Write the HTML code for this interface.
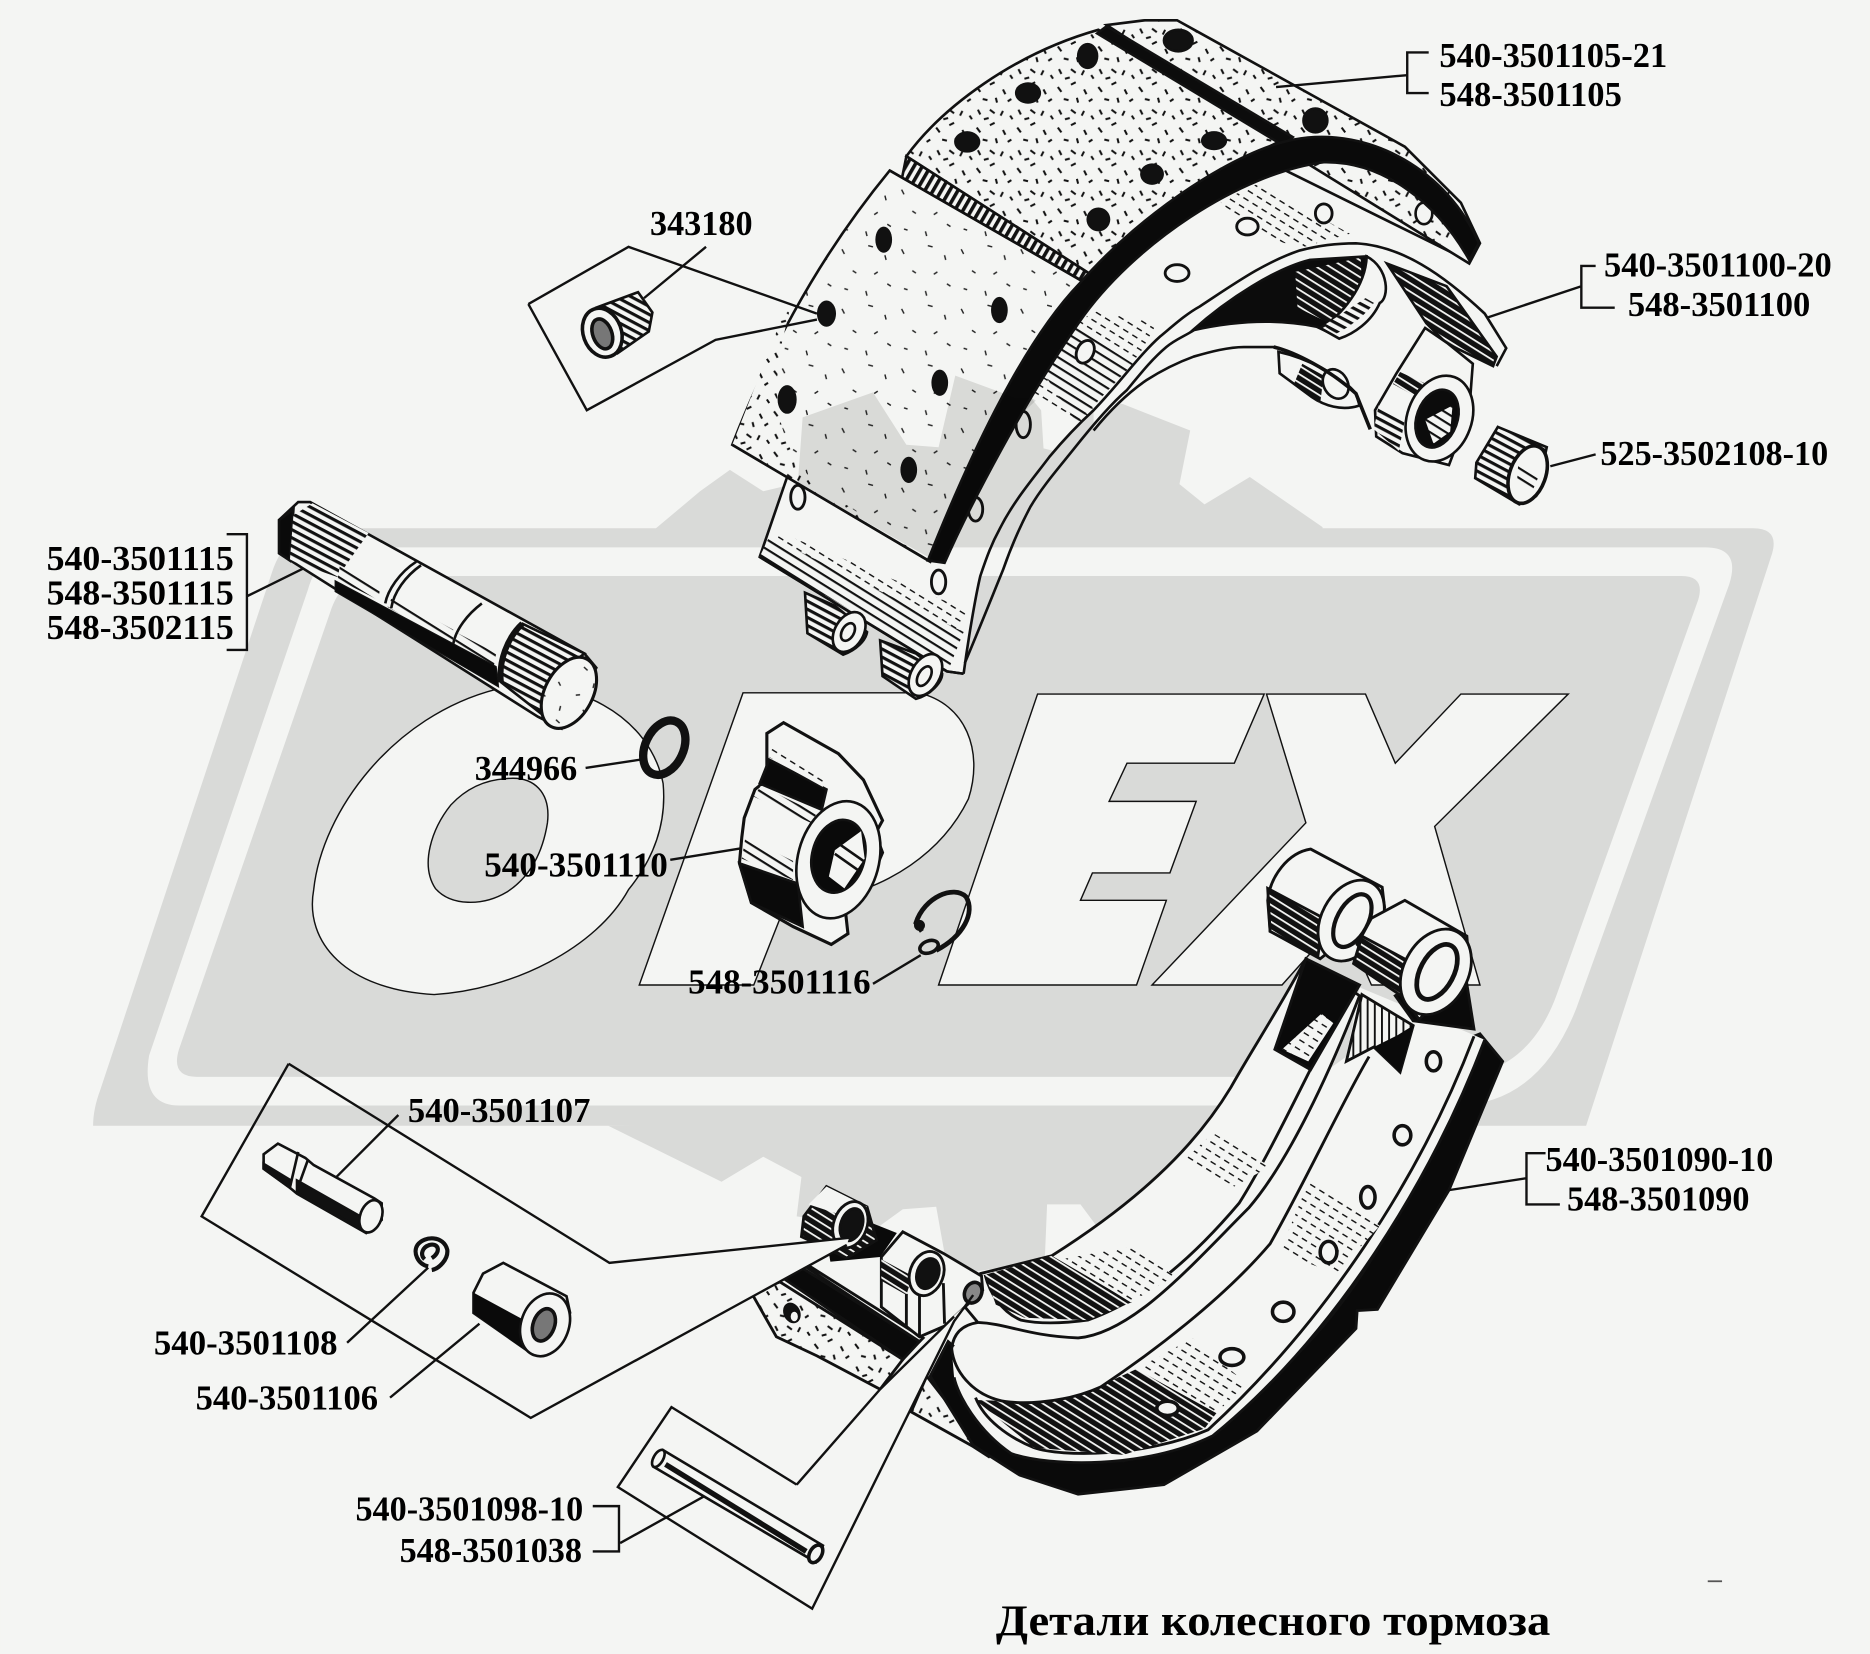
<!DOCTYPE html>
<html><head><meta charset="utf-8"><style>
html,body{margin:0;padding:0;background:#f4f5f3}
svg{display:block}
text{font-family:"Liberation Serif",serif;font-weight:bold;fill:#000;font-size:29px}
</style></head><body>
<svg width="1870" height="1654" viewBox="0 0 1568 1387" xmlns="http://www.w3.org/2000/svg">
<defs>
<pattern id="sp" width="34" height="34" patternUnits="userSpaceOnUse">
<rect width="34" height="34" fill="#f4f5f3"/>
<g stroke="#111" stroke-width="1.7" fill="none">
<path d="M3 5l3 4M14 3l4-2M25 7l2 4M8 15l4 1M19 14l1 4M29 17l3-2M4 24l2 4M14 24l4 3M25 25l-2 4M9 32l4-1M31 29l2 3"/>
</g></pattern>
<pattern id="sl" width="50" height="50" patternUnits="userSpaceOnUse">
<rect width="50" height="50" fill="#f4f5f3"/>
<g stroke="#222" stroke-width="1.2" fill="none">
<path d="M6 9l2 4M28 6l4 1M42 14l1 4M15 27l3 2M33 30l3-2M8 42l3 1M26 44l1 4M44 38l3 2"/>
</g></pattern>
<pattern id="h" width="7" height="7" patternUnits="userSpaceOnUse" patternTransform="rotate(32)">
<rect width="7" height="7" fill="#f4f5f3"/><rect y="0" width="7" height="1.8" fill="#111"/></pattern>
<pattern id="hd" width="6" height="6" patternUnits="userSpaceOnUse" patternTransform="rotate(32)">
<rect width="6" height="6" fill="#111"/><rect y="0" width="6" height="1.5" fill="#f4f5f3"/></pattern>
<pattern id="hl" width="9" height="7" patternUnits="userSpaceOnUse" patternTransform="rotate(32)">
<rect width="9" height="7" fill="#f4f5f3"/><path d="M0 1H5" stroke="#111" stroke-width="1.2"/></pattern>
<pattern id="v" width="6" height="6" patternUnits="userSpaceOnUse" patternTransform="rotate(30)">
<rect width="6" height="6" fill="#f4f5f3"/><rect width="3" height="6" fill="#111"/></pattern>
<pattern id="vl" width="6" height="6" patternUnits="userSpaceOnUse">
<rect width="6" height="6" fill="#f4f5f3"/><rect width="1.6" height="6" fill="#111"/></pattern>
<pattern id="s" width="6" height="6" patternUnits="userSpaceOnUse" patternTransform="rotate(28)">
<rect width="6" height="6" fill="#f4f5f3"/><rect width="6" height="2.6" fill="#111"/></pattern>
</defs>
<rect width="1568" height="1387" fill="#f4f5f3"/>

<!-- LOGO -->
<g fill="#d9dad8">
<path d="M550,443 L587,412 L612,394 L640,412 L690,400 L732,329 L801,315 L870,325 L942,339 L998,361 L989,406 L1010,423 L1048,400 L1109,442 L1109,460 L550,460Z"/>
<path d="M510,944 L605,991 L640,970 L672,987 L668,1020 L735,1030 L757,1014 L785,1012 L792,1051 L819,1066 L876,1058 L878,1010 L906,1010 L938,1053 L1005,1024 L998,987 L1099,950 L1129,940Z"/>
<path d="M78,944 Q78,930 84,914 L228,480 Q240,443 275,443 L1470,443 Q1492,443 1486,464 L1330,944Z"/>
</g>
<path d="M125,885 L258,495 Q268,459 300,459 L1430,459 Q1460,459 1450,490 L1322,845 Q1290,927 1220,927 L150,927 Q118,927 125,885Z" fill="#f4f5f3"/>
<path d="M150,880 L278,510 Q288,483 312,483 L1410,483 Q1430,483 1424,503 L1305,835 Q1280,903 1215,903 L165,903 Q143,903 150,880Z" fill="#d9dad8"/>
<g fill="#f4f5f3" stroke="#111" stroke-width="1.2">
<path d="M416,578 C480,565 545,600 556,657 C560,700 540,730 527,746 C500,795 430,830 364,834 C290,830 255,790 263,746 C270,680 330,600 416,578Z"/>
<path d="M536,826 L623,581 L770,581 C810,590 825,630 812,670 C790,715 745,745 690,755 L660,755 L632,826Z"/>
<path d="M787,826 L870,582 L1060,582 L1035,640 L945,640 L930,672 L1003,672 L981,732 L916,732 L906,755 L978,755 L953,826Z"/>
<path d="M966,826 L1095,690 L1062,582 L1145,582 L1170,640 L1225,582 L1315,582 L1203,693 L1241,826 L1150,826 L1125,770 L1075,826Z"/>
</g>
<path d="M424,653 C448,650 462,665 459,690 C455,715 445,735 425,748 C405,760 378,760 365,745 C352,725 362,695 378,675 C392,660 408,654 424,653Z" fill="#d9dad8" stroke="#111" stroke-width="1.2"/>

<!-- UPPER SHOE -->
<g stroke="#111" stroke-width="2.2">
<!-- rim fills (no stroke) -->
<path stroke="none" fill="#f4f5f3" d="M1076,142 L1232,219 L1245,263 C1210,230 1175,206 1137,204 C1120,204 1105,206 1090,210 C1060,220 1035,238 1006,257 C995,263 985,272 973,282 C955,298 940,320 917,344 C905,355 895,365 880,383 C865,403 850,420 838,444 C832,455 828,465 822,483 C818,500 812,535 808,565 L794,563 L637,467 L660,400 L800,400Z"/>
<path stroke="none" fill="#f4f5f3" d="M1245,263 C1210,230 1175,206 1137,204 C1120,204 1105,206 1090,210 C1060,220 1035,238 1006,257 C985,272 955,298 917,344 L917,361 C930,345 945,330 961,319 C975,310 990,303 1001,299 C1015,295 1030,291 1043,291 L1070,291 L1150,320 L1234,318 L1263,292Z"/>
<path d="M1076,142 L1232,219M660,400 L637,467 L794,563 L808,565" fill="none"/>
<!-- rim hatching -->
<path d="M653,446 L812,512 L796,559 L637.5,468Z" fill="url(#hl)" stroke="none"/>
<path d="M645,450 L808,530 L796,560 L637,467Z" fill="url(#h)" stroke="none"/>
<path d="M864,333 L892,280 L917,261 L970,271 L956,296 L903,358Z" fill="url(#hl)" stroke="none"/>
<path d="M900,273 L950,305 L903,355 L875,313Z" fill="url(#h)" stroke="none"/>
<path d="M1023,169 L1055,154 L1132,196 L1090,208 L1050,195Z" fill="url(#hl)" stroke="none"/>
<path d="M637,467 L794,563 L808,565" fill="none"/>
<!-- arch lines -->
<path d="M808,565 C812,535 818,500 822,483 C828,465 832,455 838,444 C850,420 865,403 880,383 C895,365 905,355 917,344 C940,320 955,298 973,282 C985,272 995,263 1006,257 C1035,238 1060,220 1090,210 C1105,206 1120,204 1137,204 C1175,206 1210,230 1245,263 L1263,292 L1255,307" fill="none"/>
<path d="M809,556 C820,530 832,500 841,478 C848,458 856,440 864,425 C874,408 888,392 900,377 C915,358 930,340 945,327 C955,315 965,302 978,291 C985,285 993,282 1001,277" fill="none"/>
<path d="M917,361 C930,345 945,330 961,319 C975,310 990,303 1001,299 C1015,295 1030,291 1043,291 L1070,291" fill="none"/>
<!-- rear bush -->
<path d="M1072,295 C1095,300 1125,315 1137,330 L1140,340 C1125,345 1110,340 1100,333 L1073,313Z" fill="#f4f5f3"/>
<path d="M1092,305 L1110,315 L1107,338 L1085,322Z" fill="url(#hd)" stroke="none"/>
<ellipse cx="1120" cy="322" rx="10" ry="13" fill="#f4f5f3" transform="rotate(-30 1120 322)"/>
<!-- web interior -->
<path d="M1000,277 C1030,250 1070,225 1098,218 L1146,215 C1150,240 1140,262 1123,283 L1104,274 C1075,268 1040,268 1000,277Z" fill="#0c0c0c"/>
<path d="M1086,228 L1141,216 L1142,244 L1123,275 L1088,258Z" fill="url(#hd)" stroke="none"/>
<path d="M1146,215 C1165,225 1165,250 1157,254 C1150,270 1135,280 1123,284 L1107,275 C1125,265 1145,240 1146,215Z" fill="#f4f5f3"/>
<path d="M1120,280 C1130,275 1145,265 1152,254 L1145,250 L1110,273Z" fill="url(#s)" stroke="none"/>
<!-- lower curve -->
<path d="M1068,291 C1085,295 1115,310 1137,330 L1149,360" fill="none" stroke-width="3"/>
<!-- hatched arm -->
<path d="M1163,221 L1213,240 L1255,299 L1252,307 L1213,288 L1196,271Z" fill="url(#hd)"/>
<!-- lever and eye -->
<path d="M1195,275 L1171,313 L1153,344 L1154,366 L1176,380 L1215,390 L1232,345 L1234,318 L1235,305 L1214,288Z" fill="#f4f5f3"/>
<path d="M1174,312 L1196,322 L1188,333 L1168,322Z" fill="url(#hd)" stroke="none"/>
<path d="M1156,340 L1178,352 L1173,378 L1152,360Z" fill="url(#s)" stroke="none"/>
<ellipse cx="1207" cy="351" rx="27" ry="37" transform="rotate(20 1207 351)" fill="#f4f5f3"/>
<ellipse cx="1205" cy="351" rx="17" ry="25" transform="rotate(20 1205 351)" fill="#0c0c0c"/>
<path d="M1195,352 L1218,340 L1216,362 L1202,372Z" fill="url(#h)" stroke="none"/>
<!-- rim holes -->
<g fill="#f4f5f3" stroke-width="2.4">
<ellipse cx="669" cy="417" rx="6" ry="10"/><ellipse cx="787" cy="488" rx="6" ry="10"/><ellipse cx="818" cy="427" rx="6" ry="10"/><ellipse cx="858" cy="356" rx="6" ry="11"/><ellipse cx="910" cy="295" rx="7" ry="10" transform="rotate(25 910 295)"/><ellipse cx="987" cy="229" rx="10" ry="7"/><ellipse cx="1046" cy="190" rx="9" ry="7"/><ellipse cx="1110" cy="179" rx="7" ry="8"/>
</g>
<!-- third lining, rear -->
<path d="M928,21 L960,17 L987,17 L1005,27 L1178,123 L1225,170 L1241,204 L1232,221 L1096,137 L1076,117Z" fill="url(#sp)"/>
<ellipse cx="988" cy="34" rx="12" ry="9" fill="#111"/><ellipse cx="1103" cy="101" rx="10" ry="10" fill="#111"/>
<ellipse cx="1194" cy="179" rx="7" ry="9" fill="#f4f5f3"/>
<!-- second lining -->
<path d="M760,131 C790,90 850,45 921,25 L1076,117 C1010,150 950,190 916,231Z" fill="url(#sp)"/>
<path d="M760,131 L756,151 L912,240 L916,231Z" fill="url(#v)"/>
<path d="M928,22 L1084,115 L1076,122 L920,28Z" fill="#0c0c0c"/>
<g fill="#111" stroke="none"><ellipse cx="912" cy="47" rx="9" ry="11"/><ellipse cx="862" cy="78" rx="11" ry="9"/><ellipse cx="811" cy="119" rx="11" ry="9"/><ellipse cx="1018" cy="118" rx="11" ry="8"/><ellipse cx="966" cy="146" rx="10" ry="9"/><ellipse cx="921" cy="184" rx="10" ry="10"/></g>
<!-- front lining -->
<path d="M746,143 L908,236 C850,300 810,390 780,471 L614,373 C650,280 695,205 746,143Z" fill="url(#sl)"/>
<path d="M668,235 L614,373 L780,471 L690,410 Q640,370 655,290Z" fill="url(#sp)" stroke="none"/>
<g fill="#111" stroke="none"><ellipse cx="741" cy="201" rx="7" ry="11"/><ellipse cx="693" cy="263" rx="8" ry="11"/><ellipse cx="838" cy="260" rx="7" ry="11"/><ellipse cx="788" cy="321" rx="7" ry="11"/><ellipse cx="660" cy="335" rx="8" ry="12"/><ellipse cx="762" cy="394" rx="7" ry="11"/></g>
<path d="M614,373 L780,471M746,143 L908,236" fill="none"/>
<!-- black band -->
<path d="M1240,204 L1232,218 C1205,170 1160,135 1110,136 C1040,145 950,205 905,270 C860,335 815,420 792,472 L778,470 C810,390 855,290 905,238 C960,175 1040,125 1085,117 C1150,105 1215,145 1240,204Z" fill="#0a0a0a"/>
<!-- gray logo showing through -->
<path d="M673,350 L732,329 L760,373 L787,375 L801,315 L850,333 L864,333 L873,344 L875,376 L883,378 L865,403 L838,444 L829,459 L800,459 L785,471 L669,405Z" fill="#e3e3e2" stroke="none" style="mix-blend-mode:multiply"/>
<!-- bottom eyes -->
<path d="M675,497 L677,531 L707,549 C718,545 726,537 727,530 L700,508Z" fill="url(#s)"/>
<ellipse cx="712" cy="530" rx="12" ry="18" transform="rotate(30 712 530)" fill="#f4f5f3"/>
<ellipse cx="711" cy="530" rx="5" ry="8" transform="rotate(30 711 530)" fill="#f4f5f3"/>
<path d="M738,537 L740,567 L768,586 C780,583 790,572 790,565 L768,548Z" fill="url(#s)"/>
<ellipse cx="776" cy="566" rx="12" ry="19" transform="rotate(30 776 566)" fill="#f4f5f3"/>
<ellipse cx="775" cy="567" rx="5" ry="9" transform="rotate(30 775 567)" fill="#f4f5f3"/>
</g>

<!-- LOWER SHOE -->
<g stroke="#111" stroke-width="2.4">
<!-- lining remnant -->
<path d="M630,1084 L654,1075 L757,1140 L738,1165 L685,1137 L651,1121Z" fill="url(#sp)"/>
<ellipse cx="664" cy="1101" rx="7" ry="9" fill="#111" stroke="none" transform="rotate(-25 664 1101)"/>
<ellipse cx="666" cy="1104" rx="3" ry="4" fill="#f4f5f3" stroke="none"/>
<path d="M777,1154 L764,1184 L816,1213 L830,1222Z" fill="url(#sp)"/>
<!-- black strip -->
<path d="M654,1070 L672,1063 L771,1125 L757,1140Z" fill="#0a0a0a"/>
<!-- black outer -->
<path d="M1241,867 L1260,890 L1215,998 L1155,1098 L1138,1099 L1137,1114 L1054,1200 L976,1245 L904,1253 L855,1237 L816,1212 L780,1154 L795,1125 L812,1140 C830,1200 880,1225 942,1225 C1040,1200 1130,1110 1180,1000 L1236,869Z" fill="#0a0a0a"/>
<!-- rim white -->
<path d="M1245,872 C1200,990 1120,1120 1017,1204 C960,1232 880,1230 848,1219 C820,1200 803,1170 800,1155 L798,1131 L820,1109 L1129,886 L1140,828 L1236,868Z" fill="#f4f5f3" stroke="none"/>
<path d="M1245,872 C1200,990 1120,1120 1017,1204 C960,1232 880,1230 848,1219 C820,1200 803,1170 800,1155" fill="none"/>
<path d="M1236,869 C1190,990 1110,1110 1013,1199 C960,1222 890,1222 867,1214 C845,1205 825,1190 818,1172" fill="none"/>
<!-- dark plate -->
<path d="M818,1174 L878,1176 L912,1167 L953,1148 L1020,1185 L1010,1198 L942,1220 L867,1214Z" fill="url(#hd)" stroke="none"/>
<path d="M953,1148 L1000,1122 L1045,1160 L1020,1185Z" fill="url(#hl)" stroke="none"/>
<path d="M1073,1050 L1099,987 L1157,1028 L1120,1068Z" fill="url(#hl)" stroke="none"/>
<!-- web band fill -->
<path d="M1095,804 C1070,850 1050,880 1032,912 C1000,965 950,1010 882,1053 L822,1068 L800,1085 L820,1109 C845,1110 860,1120 904,1122 C950,1118 1000,1060 1047,1013 C1080,975 1115,900 1140,835Z" fill="#f4f5f3"/>
<path d="M1135,828 C1110,870 1070,960 1039,1009 C1000,1055 960,1090 912,1107 C890,1110 870,1110 856,1107 C840,1100 830,1085 826,1069" fill="none"/>
<path d="M826,1069 L882,1053 L949,1092 L912,1107 L859,1105 L835,1094Z" fill="url(#hd)" stroke="none"/>
<path d="M890,1056 L950,1045 L985,1070 L948,1092Z" fill="url(#hl)" stroke="none"/>
<path d="M994,972 L1017,950 L1065,978 L1035,995Z" fill="url(#hl)" stroke="none"/>
<path d="M1148,886 C1125,925 1095,990 1065,1043 C1025,1090 965,1135 923,1163 C890,1178 850,1178 837,1174 C815,1168 800,1150 798,1131 Q800,1112 820,1109" fill="none"/>
<!-- holes -->
<g fill="#f4f5f3" stroke-width="3"><ellipse cx="1202" cy="890" rx="6" ry="8"/><ellipse cx="1176" cy="952" rx="7" ry="8"/><ellipse cx="1147" cy="1004" rx="6" ry="9"/><ellipse cx="1114" cy="1050" rx="7" ry="9"/><ellipse cx="1076" cy="1100" rx="9" ry="8"/><ellipse cx="1033" cy="1138" rx="10" ry="7"/><ellipse cx="979" cy="1181" rx="9" ry="6"/></g>
<!-- web dark piece -->
<path d="M1095,804 L1069,880 L1099,897 L1140,826Z" fill="#0a0a0a"/>
<path d="M1075,880 L1108,850 L1118,858 L1097,890Z" fill="url(#hl)" stroke="none"/>
<path d="M1142,834 L1185,860 L1174,899 L1152,878 L1129,890Z" fill="url(#vl)"/>
<path d="M1152,878 L1172,868 L1185,860 L1174,899Z" fill="#0a0a0a" stroke="none"/>
<path d="M1226,800 L1236,863 L1185,856 L1170,835Z" fill="#0a0a0a"/>
<!-- bushings -->
<path d="M1099,712 L1159,744 L1161,761 L1107,804 L1065,781 L1063,755 C1065,735 1080,715 1099,712Z" fill="#f4f5f3"/>
<path d="M1063,745 L1110,770 L1105,802 L1065,781Z" fill="url(#hd)"/>
<ellipse cx="1133" cy="772" rx="25" ry="36" transform="rotate(28 1133 772)" fill="#f4f5f3"/>
<ellipse cx="1134" cy="772" rx="13" ry="24" transform="rotate(28 1134 772)" fill="#f4f5f3" stroke-width="3.5"/>
<path d="M1178,755 L1230,785 L1232,810 L1190,855 L1178,837 L1138,792 L1150,770Z" fill="#f4f5f3"/>
<path d="M1142,785 L1185,808 L1178,837 L1135,808Z" fill="url(#hd)"/>
<ellipse cx="1204" cy="815" rx="27" ry="38" transform="rotate(28 1204 815)" fill="#f4f5f3"/>
<ellipse cx="1205" cy="815" rx="14" ry="25" transform="rotate(28 1205 815)" fill="#f4f5f3" stroke-width="4"/>
<!-- small lower-left bushes -->
<path d="M732,1026 L752,1034 L738,1054 L699,1073 L695,1051Z" fill="#0a0a0a" stroke="none"/>
<path d="M693,995 L727,1012 L735,1040 L710,1055 L672,1037 L674,1020Z" fill="url(#hd)"/>
<path d="M693,995 L727,1012 L715,1022 L678,1010Z" fill="#f4f5f3" stroke="none"/>
<ellipse cx="713" cy="1027" rx="14" ry="20" transform="rotate(20 713 1027)" fill="#f4f5f3"/>
<ellipse cx="714" cy="1027" rx="9" ry="14" transform="rotate(20 714 1027)" fill="#111"/>
<path d="M676,1060 L739,1054 L739,1096 L771,1121 L760,1118Z" fill="#f4f5f3" stroke="none"/>
<path d="M672,1060 L676,1060 L774,1122 L771,1125Z" fill="#f4f5f3"/>
<path d="M739,1054 L757,1033 L791,1051 L823,1070 L824,1082 L792,1112 L771,1121 L739,1096Z" fill="#f4f5f3"/>
<path d="M739,1056 L765,1070 L760,1086 L739,1074Z" fill="url(#hd)" stroke="none"/>
<path d="M760,1085 L760,1112M771,1085 L771,1120M791,1076 L792,1110" fill="none"/>
<ellipse cx="777" cy="1068" rx="14" ry="19" transform="rotate(20 777 1068)" fill="#f4f5f3"/>
<ellipse cx="778" cy="1068" rx="9" ry="13" transform="rotate(20 778 1068)" fill="#111"/>
<ellipse cx="816" cy="1084" rx="7" ry="9" transform="rotate(25 816 1084)" fill="#888" stroke-width="3"/>
</g>

<!-- FRAMES AND LEADERS -->
<g fill="none" stroke="#111" stroke-width="2">
<path d="M510,1058 L712,1038 L710,1044 L445,1189Z" fill="#f4f5f3" stroke="none"/>
<path d="M668,1245 L738,1165 L798,1105 L812,1092 L800,1110 L681,1349 L518,1247 L563,1180Z" fill="#f4f5f3" stroke="none"/>
<path d="M1198,44H1180V78H1198M1180,63L1070,73"/>
<path d="M1338,223H1326V258H1354M1326,240L1248,266"/>
<path d="M1338,381L1300,391"/>
<path d="M592,207L540,250M443,255L527,207L685,263M443,255L492,344L600,285L685,268"/>
<path d="M190,448H207V545H190M207,500L272,468"/>
<path d="M491,644L537,637M562,721L630,710M732,825L772,801"/>
<path d="M334,935L274,995M242,892L511,1059L712,1038M242,892L169,1020L445,1189L710,1044"/>
<path d="M291,1126L359,1063M327,1172L402,1110"/>
<path d="M497,1263H519V1301H497M520,1294L590,1255"/>
<path d="M668,1245L563,1180L518,1247L681,1349L800,1108L816,1086M668,1245L738,1165L800,1104"/>
<path d="M1296,967H1280V1010H1308M1280,988L1215,998"/>
</g>

<!-- SMALL PARTS -->
<g stroke="#111" stroke-width="2.2">
<!-- rivet -->
<path d="M500,258 L535,245 L547,262 L544,278 L518,296Z" fill="url(#s)"/>
<ellipse cx="505" cy="279" rx="16" ry="21" transform="rotate(-20 505 279)" fill="#f4f5f3" stroke-width="3"/>
<ellipse cx="505" cy="280" rx="8" ry="13" transform="rotate(-20 505 280)" fill="#777" stroke-width="3"/>
<!-- roller -->
<path d="M1256,358 L1297,375 L1288,416 L1274,423 L1237,401 L1238,388Z" fill="url(#s)"/>
<ellipse cx="1281" cy="398" rx="15" ry="25" transform="rotate(20 1281 398)" fill="#f4f5f3" stroke-width="3"/>
<path d="M1273,390 L1290,400 L1284,414 L1272,406Z" fill="url(#h)" stroke="none"/>
<!-- shaft -->
<path d="M234,436 L250,421 L260,421 L490,548 L500,560 L471,611 L451,601 L234,464Z" fill="#f4f5f3"/>
<path d="M234,436 L246,427 L243,470 L234,464Z" fill="#0a0a0a"/>
<path d="M246,432 L262,422 L309,447 L283,484 L243,470Z" fill="url(#s)" stroke="none"/>
<path d="M285,474 L319,492 L317,503 L283,486Z" fill="url(#h)" stroke="none"/>
<path d="M329,500 L380,528 L380,540 L325,509Z" fill="url(#h)" stroke="none"/>
<path d="M384,531 L416,548 L414,559 L380,542Z" fill="url(#h)" stroke="none"/>
<path d="M281,487 L416,559 L418,576 L281,496Z" fill="#0a0a0a" stroke-width="1"/>
<path d="M349,471 C335,480 325,495 323,506M353,474 C340,483 330,497 328,510M404,506 C392,515 382,528 380,540" fill="none"/>
<path d="M438,523 C425,535 418,555 420,572 L457,601 L475,560 L490,548Z" fill="url(#s)"/>
<path d="M438,523 C425,535 418,555 420,572" fill="none" stroke-width="5"/>
<ellipse cx="477" cy="581" rx="20" ry="32" transform="rotate(28 477 581)" fill="url(#sl)" stroke-width="2.6"/>
<!-- ring -->
<ellipse cx="557" cy="627" rx="16" ry="24" transform="rotate(25 557 627)" fill="none" stroke-width="7"/>
<!-- hub -->
<path d="M643,615 L657,606 L703,632 L724,654 L732,671 L740,688 L734,699 L740,715 L728,743 L709,765 L711,783 L697,792 L665,777 L630,757 L620,724 L622,702 L624,686 L633,662 L643,654Z" fill="#f4f5f3" stroke-width="2.6"/>
<path d="M645,637 L693,662 L689,679 L637,657Z" fill="#0a0a0a"/>
<path d="M638,659 L685,682 L680,690 L632,668Z" fill="url(#h)" stroke="none"/>
<path d="M620,724 L669,741 L673,777 L630,757Z" fill="#0a0a0a"/>
<path d="M625,702 L665,722 L665,738 L622,720Z" fill="url(#h)" stroke="none"/>
<path d="M645,625 L690,650 L690,660 L645,635Z" fill="url(#hl)" stroke="none"/>
<ellipse cx="703" cy="721" rx="34" ry="50" transform="rotate(15 703 721)" fill="#f4f5f3"/>
<ellipse cx="703" cy="718" rx="22" ry="31" transform="rotate(15 703 718)" fill="#0a0a0a"/>
<path d="M700,713 L722,697 L725,720 L708,745 L695,735Z" fill="#f4f5f3" stroke="none"/>
<path d="M704,708 L724,722M700,716 L720,730" fill="none"/>
<!-- snap ring -->
<path d="M773,781 L768,774 C775,752 800,742 810,752 C818,765 808,785 785,797" fill="none" stroke-width="4"/>
<ellipse cx="779" cy="794" rx="8" ry="5" transform="rotate(-20 779 794)" fill="none" stroke-width="3"/>
<circle cx="771" cy="776" r="3.5" fill="#111"/>
<!-- pin 107 -->
<path d="M233,959 L256,971 L263,977 L314,1005 L320,1009 L320,1023 L307,1034 L249,1001 L243,996 L221,980 L221,968Z" fill="#f4f5f3"/>
<path d="M221,976 L244,990 L243,996 L221,980Z" fill="#111"/>
<path d="M249,990 L302,1020 L305,1032 L249,1000Z" fill="#111"/>
<path d="M250,966 L243,996M258,973 L249,998" fill="none"/>
<ellipse cx="311" cy="1020" rx="9" ry="14" transform="rotate(20 311 1020)" fill="#f4f5f3"/>
<!-- c-ring -->
<path d="M359,1062 C350,1060 346,1050 350,1044 C356,1036 372,1036 375,1048 C376,1056 368,1064 362,1065 M362,1055 C370,1050 368,1042 360,1044 C354,1046 352,1052 356,1056" fill="none" stroke-width="3.5"/>
<!-- bush 106 -->
<path d="M422,1059 L475,1087 L478,1101 L467,1129 L447,1136 L397,1101 L397,1084 L405,1068Z" fill="#f4f5f3"/>
<path d="M397,1084 L445,1110 L437,1130 L397,1101Z" fill="#0a0a0a" stroke="none"/>
<path d="M402,1082 L445,1104" fill="none" stroke="#f4f5f3"/>
<ellipse cx="457" cy="1111" rx="20" ry="27" transform="rotate(20 457 1111)" fill="#f4f5f3"/>
<ellipse cx="456" cy="1111" rx="9" ry="14" transform="rotate(20 456 1111)" fill="#777" stroke-width="3"/>
<!-- long pin -->
<path d="M556,1216 L690,1296 L684,1310 L548,1230Z" fill="#f4f5f3"/>
<path d="M558,1228 L676,1301" fill="none" stroke-width="4.5"/>
<ellipse cx="684" cy="1303" rx="5" ry="8" transform="rotate(30 684 1303)" fill="#f4f5f3" stroke-width="3"/>
<ellipse cx="552" cy="1223" rx="4" ry="8" transform="rotate(30 552 1223)" fill="#f4f5f3"/>
</g>

<!-- TEXT -->
<text x="1207" y="56" textLength="191" lengthAdjust="spacingAndGlyphs">540-3501105-21</text>
<text x="1207" y="89" textLength="153" lengthAdjust="spacingAndGlyphs">548-3501105</text>
<text x="1345" y="232" textLength="191" lengthAdjust="spacingAndGlyphs">540-3501100-20</text>
<text x="1365" y="265" textLength="153" lengthAdjust="spacingAndGlyphs">548-3501100</text>
<text x="1342" y="390" textLength="191" lengthAdjust="spacingAndGlyphs">525-3502108-10</text>
<text x="545" y="197" textLength="86" lengthAdjust="spacingAndGlyphs">343180</text>
<text x="39" y="478" textLength="157" lengthAdjust="spacingAndGlyphs">540-3501115</text>
<text x="39" y="507" textLength="157" lengthAdjust="spacingAndGlyphs">548-3501115</text>
<text x="39" y="536" textLength="157" lengthAdjust="spacingAndGlyphs">548-3502115</text>
<text x="398" y="654" textLength="86" lengthAdjust="spacingAndGlyphs">344966</text>
<text x="406" y="735" textLength="154" lengthAdjust="spacingAndGlyphs">540-3501110</text>
<text x="577" y="833" textLength="153" lengthAdjust="spacingAndGlyphs">548-3501116</text>
<text x="342" y="941" textLength="153" lengthAdjust="spacingAndGlyphs">540-3501107</text>
<text x="129" y="1136" textLength="154" lengthAdjust="spacingAndGlyphs">540-3501108</text>
<text x="164" y="1182" textLength="153" lengthAdjust="spacingAndGlyphs">540-3501106</text>
<text x="298" y="1275" textLength="191" lengthAdjust="spacingAndGlyphs">540-3501098-10</text>
<text x="335" y="1310" textLength="153" lengthAdjust="spacingAndGlyphs">548-3501038</text>
<text x="1296" y="982" textLength="191" lengthAdjust="spacingAndGlyphs">540-3501090-10</text>
<text x="1314" y="1015" textLength="153" lengthAdjust="spacingAndGlyphs">548-3501090</text>
<text x="835" y="1371" textLength="465" lengthAdjust="spacingAndGlyphs" style="font-size:36px">Детали колесного тормоза</text>
<path d="M1432,1326H1444" stroke="#555" stroke-width="1.5"/>
</svg>
</body></html>
